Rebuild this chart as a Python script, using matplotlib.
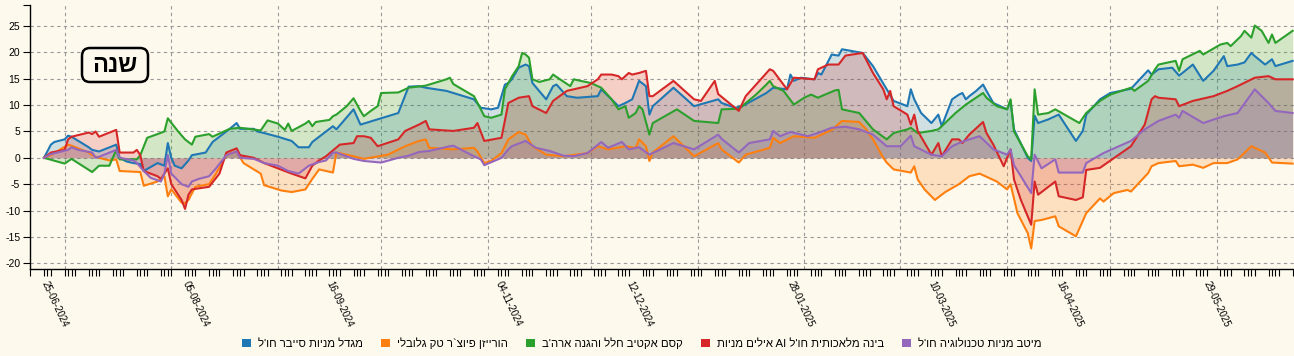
import re
import matplotlib
matplotlib.use('Agg')
import matplotlib.pyplot as plt
from matplotlib.patches import Patch, FancyBboxPatch
from matplotlib.transforms import IdentityTransform
import pandas as pd

plt.rcParams['font.family'] = ['Liberation Sans', 'DejaVu Sans']

# --- data: day offset from first date, yield in % ---
start_date = '2024-06-25'

cyber_days = [0, 2, 3, 6, 7, 8, 13, 14, 16, 21, 22, 24, 26, 28, 29, 33, 35, 36, 37, 38,
              40, 42, 43, 47, 49, 54, 56, 57, 61, 62, 64, 68, 72, 74, 77, 78, 80, 83, 84, 85,
              90, 92, 97, 103, 106, 109, 111, 117, 125, 127, 130, 132, 134, 135, 136, 138, 140, 141, 142, 146,
              148, 149, 152, 155, 161, 162, 165, 167, 169, 171, 173, 175, 176, 177, 183, 189, 196, 197, 201, 203,
              210, 212, 216, 217, 218, 220, 224, 225, 226, 229, 231, 232, 238, 241, 245, 247, 251, 252, 253, 255,
              258, 260, 261, 264, 266, 267, 268, 269, 271, 273, 274, 276, 280, 281, 282, 286, 287, 288, 289, 292,
              295, 300, 302, 303, 307, 310, 316, 321, 322, 324, 328, 330, 334, 337, 340, 343, 344, 347, 349, 351,
              352, 355, 357, 358, 363]
cyber_vals = [0, 2.5, 3, 3.5, 4.2, 4, 2, 1.5, 1.2, 2.5, 0, -0.7, -1, -1.2, -2.5, -1, -1.5, 2.8, 0, -1.5,
              -2, -0.5, 0.5, 1, 3, 5.5, 6.6, 5.5, 5.5, 5, 4.7, 4, 3.2, 2, 2, 3, 4, 5.5, 6, 5.4,
              9.2, 6.3, 7.3, 8.5, 13.5, 13.6, 13.3, 12.7, 11.1, 9.5, 9.2, 9.5, 13.9, 14.2, 14.9, 17.1, 17.7, 17.4, 14.2, 11.1,
              13.6, 13.9, 11.7, 11.4, 11.7, 13, 11.1, 9.8, 10.4, 11.1, 14.6, 13.6, 8.2, 9.8, 13.3, 9.8, 11.1, 10.4, 9.5, 9.8,
              12.3, 13.3, 13, 15.8, 14.6, 15.2, 14.9, 16.1, 15.8, 19.6, 19.4, 20.6, 19.9, 17.4, 13, 10.8, 9.8, 13, 11.1, 8.5,
              6.6, 8.2, 6, 11.1, 12, 12.3, 11.1, 11.7, 12.7, 13.9, 12.7, 10.4, 9.2, 10.8, 5.4, 0, -0.6, 8, 6.6, 7.3,
              8.2, 3.2, 5.1, 8.2, 11.1, 12.3, 13.1, 16.6, 15.8, 16.8, 17.1, 15.6, 17.7, 14.6, 16.5, 19.3, 17.4, 17.7, 18.1, 19.9,
              19.3, 17.7, 18.7, 17.4, 18.4]

horizon_days = [0, 2, 7, 8, 13, 14, 16, 19, 21, 22, 28, 29, 33, 35, 36, 37, 40, 41, 42, 44,
                48, 50, 53, 56, 58, 63, 64, 69, 72, 76, 78, 80, 82, 84, 85, 90, 93, 100, 105, 109,
                111, 112, 119, 125, 126, 128, 130, 133, 135, 138, 140, 142, 146, 151, 158, 161, 164, 169, 172, 173,
                175, 176, 177, 183, 189, 196, 197, 202, 204, 211, 212, 214, 218, 224, 229, 232, 237, 239, 241, 244,
                245, 247, 252, 253, 254, 256, 259, 262, 266, 269, 272, 277, 279, 280, 281, 283, 286, 287, 288, 290,
                294, 295, 300, 303, 307, 308, 311, 315, 316, 321, 322, 324, 329, 330, 334, 337, 340, 344, 347, 351,
                355, 357, 363]
horizon_vals = [0, 0.5, 2.5, 2.3, 1, 0.5, 0, -0.5, -0.3, -2.5, -2.7, -5.3, -4.5, -3.5, -7.3, -6, -8.5, -8.6, -8, -5.5,
                -5, -3, 0.5, 1.2, -1, -3, -5.2, -6.2, -6.5, -6, -4, -2.2, -2.5, -2.8, 1, 0.3, -0.2, 0.6, 2.2, 3.2,
                3.5, 1.9, 1.6, 1.9, 1.2, -1, -0.6, 0.9, 3.5, 4.9, 4.4, 2.2, 0.6, 0.3, 0.9, 2.2, 1.6, 2.2, 1.9, 3.5,
                2.2, -0.6, 1, 4.1, 0.3, 2.8, 1.6, -0.9, 0.6, 1.9, 3.8, 2.8, 4.1, 3.8, 5.3, 7, 6.8, 5.4, 3.5, 0,
                -0.9, -2.2, -2.8, -1.6, -4.1, -6, -8, -6.5, -5, -3.5, -3, -4.5, -5.5, -6, -5, -10.5, -14.3, -17.2, -12, -11.8,
                -11.1, -13, -14.9, -10.5, -7.7, -8.3, -6.7, -6.1, -6.4, -2.9, -1.6, -1, -0.6, -1.6, -1.3, -1.9, -1, -1, -0.3, 2.2,
                1, -0.9, -1.1]

kesem_days = [0, 6, 8, 14, 16, 19, 21, 22, 27, 28, 30, 33, 35, 36, 39, 41, 43, 44, 48, 49,
              54, 57, 63, 65, 68, 70, 71, 72, 76, 77, 78, 79, 83, 84, 85, 88, 90, 92, 93, 95,
              97, 98, 103, 106, 111, 117, 118, 119, 125, 127, 128, 130, 133, 134, 135, 136, 138, 139, 140, 141,
              142, 144, 147, 148, 150, 153, 154, 156, 159, 161, 162, 165, 167, 169, 170, 172, 173, 174, 176, 177,
              184, 189, 196, 197, 202, 207, 210, 211, 212, 215, 218, 221, 223, 225, 226, 230, 231, 232, 237, 241,
              245, 247, 251, 252, 254, 258, 260, 261, 265, 268, 273, 274, 277, 280, 281, 282, 286, 287, 288, 289,
              292, 294, 301, 303, 307, 310, 316, 317, 321, 323, 324, 329, 330, 331, 336, 337, 342, 344, 345, 348,
              349, 351, 352, 354, 356, 357, 358, 363]
kesem_vals = [0, -1.1, -0.2, -2.7, -1.5, -1.5, 1.5, -0.3, -0.3, 0.5, 3.8, 4.5, 5, 7.5, 5, 3.5, 2.5, 4, 4.5, 4,
              5.5, 5.7, 5.2, 7.1, 6.5, 5.3, 6.5, 5.1, 6.5, 7, 6, 6.8, 7.2, 7.9, 8.2, 9.8, 11.3, 8.9, 7.9, 8.9,
              9.8, 12.3, 12.4, 13.3, 13.7, 14.9, 15.2, 14, 11.7, 9.2, 7.9, 7.6, 8.2, 13, 14.2, 15.4, 17.4, 19.9, 19.6, 19,
              14.9, 14.4, 14.9, 15.8, 14.9, 13.6, 14.9, 14.6, 14.2, 13.6, 13.3, 11.1, 9.2, 9.8, 7.6, 8.5, 9.8, 9.2, 4.4, 6.6,
              9.2, 7, 6.6, 9.2, 9.3, 12, 13.9, 14.6, 13.6, 12.7, 10.1, 11.4, 12, 11.4, 11.7, 12.8, 12.9, 9.2, 8.5, 5.4,
              3.5, 4.7, 5.4, 5.7, 4.7, 5.1, 5.4, 6, 8.5, 10.1, 12.3, 11.4, 9.8, 9.2, 11.1, 5, 0.3, -0.3, 13, 8.2,
              8.5, 9.2, 6.6, 8.5, 10.8, 12, 13.3, 12.7, 14.6, 16.8, 17.7, 18.4, 16.5, 18.7, 20.3, 19.6, 21.5, 21.8, 21.2, 23.1,
              24.1, 22.8, 25.1, 24.1, 21.8, 23.4, 21.8, 24.1]

ayalim_days = [0, 2, 6, 7, 8, 13, 14, 15, 16, 21, 22, 26, 27, 28, 29, 31, 33, 34, 36, 37,
               40, 41, 42, 43, 45, 48, 51, 53, 56, 57, 61, 64, 68, 72, 76, 78, 80, 82, 86, 90,
               91, 93, 95, 97, 103, 105, 109, 111, 112, 119, 125, 126, 128, 133, 135, 138, 141, 142, 146, 148,
               152, 158, 161, 162, 165, 167, 168, 170, 171, 173, 175, 176, 177, 183, 189, 191, 195, 196, 202, 204,
               211, 212, 216, 218, 224, 225, 228, 231, 233, 238, 241, 244, 245, 246, 247, 251, 252, 253, 254, 258,
               260, 261, 264, 266, 267, 269, 273, 274, 276, 279, 281, 282, 284, 287, 288, 289, 294, 295, 300, 302,
               303, 307, 316, 320, 322, 323, 324, 329, 330, 334, 340, 344, 347, 352, 356, 358, 363]
ayalim_vals = [0, 1, 1.5, 3.5, 4, 4.8, 4.5, 5, 4, 5.3, 1, 1, 1.5, 0.5, -2.5, -3, -3.5, -4, -2, -5,
               -8, -9.7, -7, -6, -5.8, -5.5, -3, 1, 1.8, 0.5, 0, -1, -2, -3, -3.9, -1.5, -0.5, 0.3, 2.5, 2.8,
               4.1, 4.1, 3.8, 2.2, 3.5, 5.1, 6.3, 7, 5.4, 5.1, 5.7, 6.6, 3.2, 3.8, 10.4, 11.4, 11.7, 9.8, 8.5, 10.8,
               12.7, 13.6, 14.9, 15.8, 15.8, 15.5, 14.9, 16.1, 15.8, 16.1, 16.5, 11.7, 11.7, 14.6, 11.1, 10.8, 14.6, 12.1, 8.9, 11.7,
               16.8, 16.5, 13, 15.2, 14.9, 16.8, 17.7, 17.7, 19.4, 19.9, 16.1, 13, 11.1, 12.7, 9.8, 8.2, 6.3, 8.2, 5.1, 0.6,
               2.8, 0.3, 3.5, 3.5, 2.8, 4.4, 6.8, 4.7, 2.5, -1.6, 1.6, -4.1, -8, -12.7, -4.5, -7, -4.5, -7.3, -8, -7.5,
               -2.3, -1.9, 2.2, 6.3, 11.1, 11.7, 11.4, 11.1, 9.8, 10.8, 11.7, 12.7, 13.6, 15.2, 15.5, 14.9, 14.9]

meitav_days = [0, 2, 7, 8, 10, 14, 15, 16, 21, 22, 26, 27, 29, 31, 34, 35, 36, 37, 40, 42,
               43, 45, 48, 50, 53, 56, 57, 61, 64, 68, 71, 74, 77, 80, 82, 84, 85, 90, 93, 98,
               103, 106, 109, 112, 118, 119, 125, 127, 128, 133, 135, 136, 140, 143, 147, 151, 154, 158, 162, 164,
               168, 170, 173, 176, 183, 189, 196, 197, 202, 205, 211, 212, 214, 217, 222, 225, 229, 233, 237, 241,
               245, 249, 252, 253, 258, 261, 264, 266, 269, 272, 276, 280, 281, 282, 284, 287, 288, 290, 294, 295,
               302, 303, 308, 316, 320, 324, 329, 330, 331, 337, 343, 347, 352, 354, 356, 358, 363]
meitav_vals = [0, 0.7, 1.5, 2, 1.5, 1, 0, 0.2, 1.5, 0, -0.5, -1, -2.5, -3.8, -4.5, -3, 0.5, -3, -5, -5.5,
               -4.5, -4, -3.5, -2, 0.5, 1.2, 0, -0.2, -1, -1.5, -2.5, -3, -1.5, -0.8, -0.5, 1, 1, -0.2, -0.6, -0.9,
               0, 0.4, 1.1, 1.3, 2.2, 2.3, 0.3, -0.3, -1.4, 0, 1.6, 2.2, 3.2, 1.9, 1.3, 0.4, 0.3, 0.9, 3, 1.9,
               3, 1.6, 2, 0.6, 2.8, 1.6, 4.4, 3.6, 1, 2.8, 3.5, 5.1, 4.1, 4.9, 4.1, 4.7, 5.7, 5.9, 5.4, 4.4,
               2.2, 2.2, 4.2, 2.2, 0.6, 0.3, 2.2, 2.8, 3.5, 4.1, 1.6, 0.6, 1.6, -1.4, -3.5, -6.7, 0.6, -2, -0.3, -2.8,
               -2.8, -1, 0.9, 3.2, 5.4, 7, 8.2, 7.6, 8.9, 6.6, 7.9, 8.5, 13, 11.7, 10.4, 8.9, 8.5]

fund_names = ["מגדל מניות סייבר חו'ל",
              "הורייזן פיוצ`ר טק גלובלי",
              "קסם אקטיב חלל והגנה ארה'ב",
              "בינה מלאכותית חו'ל AI אילים מניות",
              "מיטב מניות טכנולוגיה חו'ל"]
label_dates = ['25-06-2024', '05-08-2024', '16-09-2024', '04-11-2024', '12-12-2024',
               '28-01-2025', '10-03-2025', '16-04-2025', '29-05-2025']
period_label = 'שנה'
y_ticks = [-20, -15, -10, -5, 0, 5, 10, 15, 20, 25]

colors = ['#1f77b4', '#ff7f0e', '#2ca02c', '#d62728', '#9467bd']
bg = '#fdf9ed'


def visual(s):
    # matplotlib has no bidi: flip to visual order, keep latin runs readable
    return re.sub(r'[A-Za-z0-9]+', lambda m: m.group(0)[::-1], s[::-1])


t0 = pd.Timestamp(start_date)
series = [(cyber_days, cyber_vals), (horizon_days, horizon_vals), (kesem_days, kesem_vals),
          (ayalim_days, ayalim_vals), (meitav_days, meitav_vals)]

fig = plt.figure(figsize=(12.94, 3.56), dpi=100, facecolor=bg)
ax = fig.add_axes([30 / 1294, 1 - 269 / 356, 1 - 30 / 1294, 264 / 356])
ax.set_facecolor(bg)

for (days, vals), c in zip(series, colors):
    x = t0 + pd.to_timedelta(days, unit='D')
    ax.fill_between(x, vals, 0, color=c, alpha=0.2, lw=0)
for (days, vals), c in zip(series, colors):
    x = t0 + pd.to_timedelta(days, unit='D')
    ax.plot(x, vals, color=c, lw=1.5, solid_joinstyle='round')

x_lo = t0 - pd.Timedelta(days=4.07)
x_hi = t0 + pd.Timedelta(days=363.4)
y_lo, y_hi = -21.1, 29.0
ax.set_xlim(x_lo, x_hi)
ax.set_ylim(y_lo, y_hi)

# grid: horizontal at y ticks, vertical at month starts
grid_kw = dict(color='#9a9a9a', lw=0.8, dashes=(3, 3), zorder=0)
for yv in y_ticks:
    ax.axhline(yv, **grid_kw)
for m in pd.date_range('2024-07-01', '2025-06-01', freq='MS'):
    ax.axvline(m, **grid_kw)

# ticks: one per trading day, labels on selected days, plus outer ticks at the axis ends
trade_days = pd.bdate_range(t0, t0 + pd.Timedelta(days=363), freq='C', weekmask='Mon Tue Wed Thu')
ax.set_xticks([x_lo] + list(trade_days))
ax.set_xticklabels([''] + [d.strftime('%d-%m-%Y') if d.strftime('%d-%m-%Y') in label_dates else ''
                           for d in trade_days])
for lbl in ax.get_xticklabels():
    lbl.set_rotation(-65)
    lbl.set_ha('left')
    lbl.set_va('center')
    lbl.set_rotation_mode('anchor')
ax.tick_params(axis='x', length=5, width=0.8, labelsize=7, pad=4)
ax.set_yticks(y_ticks + [y_hi])
ax.set_yticklabels([str(v) for v in y_ticks] + [''])
ax.tick_params(axis='y', length=5, width=0.8, labelsize=7.5, pad=2)

for s in ['top', 'right']:
    ax.spines[s].set_visible(False)
for s in ['left', 'bottom']:
    ax.spines[s].set_linewidth(1.0)

# period badge (pixel box, top-left)
badge = FancyBboxPatch((82, 274), 66, 34, boxstyle='round,pad=0,rounding_size=8',
                       transform=IdentityTransform(), fc=bg, ec='black', lw=1.8)
fig.add_artist(badge)
fig.text(115 / 1294, 291 / 356, visual(period_label), ha='center', va='center',
         fontsize=17, fontweight='bold')

handles = [Patch(facecolor=c, edgecolor='none') for c in colors]
fig.legend(handles, [visual(n) for n in fund_names], loc='center', bbox_to_anchor=(0.496, 0.036),
           ncol=5, frameon=False, fontsize=8.2, handlelength=0.8, handleheight=0.8,
           handletextpad=0.6, columnspacing=1.6)

fig.savefig('out.png', dpi=100, facecolor=bg)
